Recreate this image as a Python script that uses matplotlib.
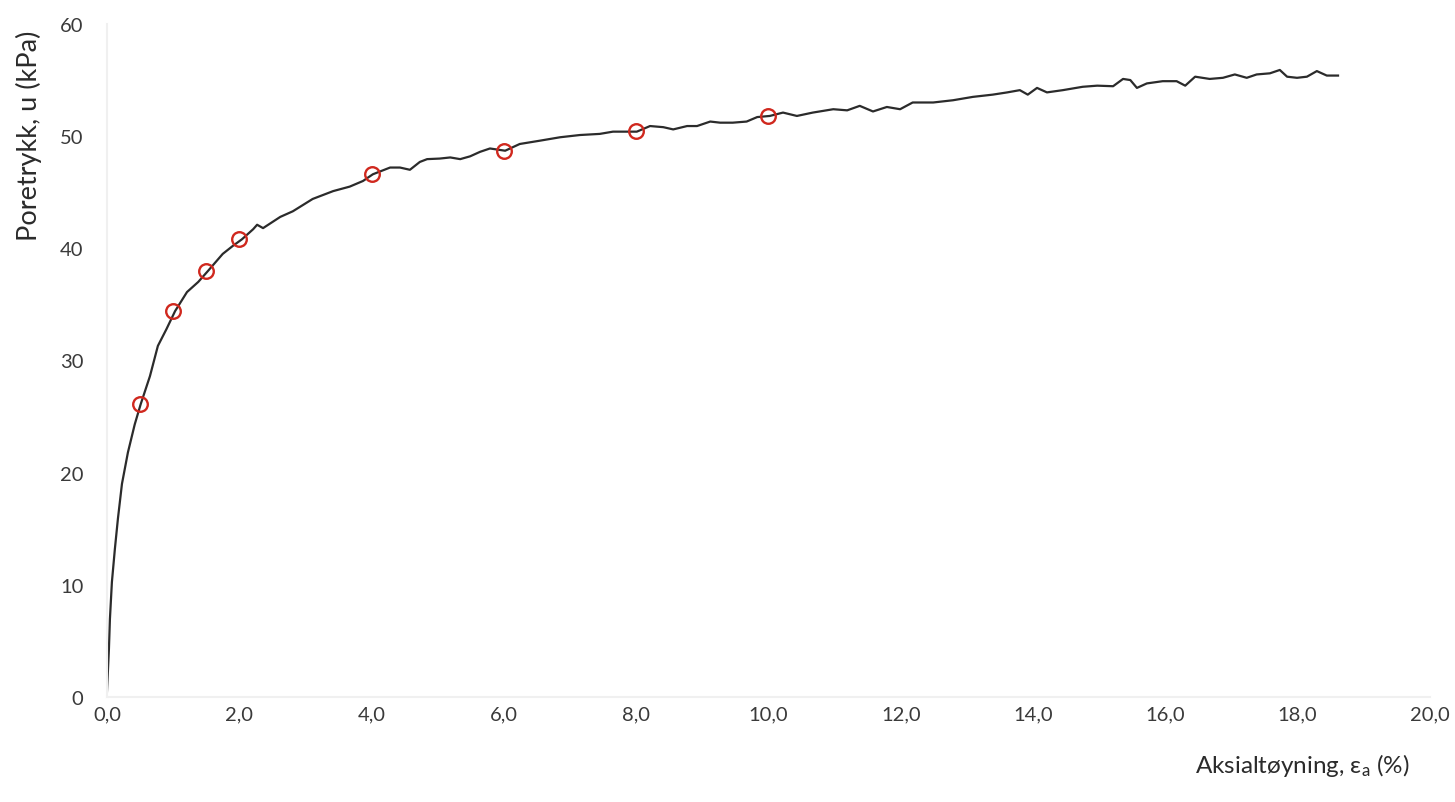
import matplotlib
matplotlib.use("Agg")
import matplotlib.pyplot as plt

plt.rcParams['font.family'] = ['Lato', 'DejaVu Sans']
plt.rcParams['mathtext.fontset'] = 'custom'
plt.rcParams['mathtext.rm'] = 'Lato'
plt.rcParams['mathtext.it'] = 'Lato'

# Curve (axial strain %, pore pressure kPa)
strain = [0.0, 0.03, 0.045, 0.075, 0.12, 0.166, 0.227, 0.317, 0.42, 0.51,
          0.65, 0.77, 0.90, 1.03, 1.21, 1.38, 1.53, 1.75, 1.90, 2.04,
          2.21, 2.27, 2.36, 2.62, 2.81, 3.11, 3.42, 3.67, 3.87, 4.02,
          4.15, 4.28, 4.43, 4.58, 4.73, 4.84, 5.03, 5.19, 5.34, 5.49,
          5.64, 5.79, 6.02, 6.24, 6.55, 6.85, 7.15, 7.45, 7.65, 7.86,
          8.01, 8.21, 8.41, 8.56, 8.77, 8.92, 9.12, 9.27, 9.46, 9.67,
          9.83, 10.02, 10.22, 10.43, 10.67, 10.98, 11.19, 11.38, 11.58, 11.79,
          11.99, 12.18, 12.49, 12.79, 13.09, 13.39, 13.61, 13.80, 13.92, 14.06,
          14.21, 14.45, 14.75, 14.97, 15.21, 15.36, 15.47, 15.57, 15.72, 15.96,
          16.17, 16.30, 16.45, 16.67, 16.87, 17.05, 17.23, 17.38, 17.58, 17.73,
          17.84, 17.99, 18.14, 18.29, 18.44, 18.61]
pressure = [0.45, 4.3, 6.95, 10.25, 13.2, 15.9, 19.0, 21.8, 24.3, 26.1,
            28.6, 31.3, 32.8, 34.4, 36.1, 37.0, 38.0, 39.5, 40.2, 40.8,
            41.7, 42.1, 41.8, 42.8, 43.3, 44.4, 45.1, 45.5, 46.0, 46.6,
            46.9, 47.2, 47.2, 47.0, 47.7, 47.95, 48.0, 48.1, 47.95, 48.2,
            48.6, 48.9, 48.7, 49.3, 49.6, 49.9, 50.1, 50.2, 50.4, 50.4,
            50.4, 50.9, 50.8, 50.6, 50.9, 50.9, 51.3, 51.2, 51.2, 51.3,
            51.7, 51.8, 52.1, 51.8, 52.1, 52.4, 52.3, 52.7, 52.2, 52.6,
            52.4, 53.0, 53.0, 53.2, 53.5, 53.7, 53.9, 54.1, 53.7, 54.3,
            53.9, 54.1, 54.4, 54.5, 54.45, 55.1, 55.0, 54.3, 54.7, 54.9,
            54.9, 54.5, 55.3, 55.1, 55.2, 55.5, 55.2, 55.5, 55.6, 55.9,
            55.3, 55.2, 55.3, 55.8, 55.4, 55.4]

# Marked points (red circles)
mark_strain = [0.5, 1.0, 1.5, 2.0, 4.0, 6.0, 8.0, 10.0]
mark_pressure = [26.1, 34.4, 38.0, 40.8, 46.6, 48.7, 50.5, 51.8]

x_ticks = [0, 2, 4, 6, 8, 10, 12, 14, 16, 18, 20]
x_tick_labels = ["0,0", "2,0", "4,0", "6,0", "8,0", "10,0", "12,0", "14,0", "16,0", "18,0", "20,0"]
y_ticks = [0, 10, 20, 30, 40, 50, 60]

fig = plt.figure(figsize=(14.55, 8.03), dpi=100)
ax = fig.add_axes([0.0735, 0.1308, 0.9093, 0.8381])

ax.plot(strain, pressure, color='#2b2b2b', linewidth=1.6, zorder=2)
ax.plot(mark_strain, mark_pressure, linestyle='none', marker='o', markersize=10.5,
        markerfacecolor='none', markeredgecolor='#d0281e', markeredgewidth=1.7, zorder=3)

ax.set_xlim(0, 20)
ax.set_ylim(0, 60)
ax.set_xticks(x_ticks)
ax.set_xticklabels(x_tick_labels)
ax.set_yticks(y_ticks)
ax.tick_params(axis='both', length=0, labelsize=14.5, colors='#3a3a3a')
ax.tick_params(axis='x', pad=6)
ax.tick_params(axis='y', pad=17)

for s in ['top', 'right']:
    ax.spines[s].set_visible(False)
ax.spines['left'].set_color('#f0f0f0')
ax.spines['bottom'].set_color('#f0f0f0')
ax.spines['left'].set_linewidth(1.5)
ax.spines['bottom'].set_linewidth(1.5)

fig.text(29 / 1455, 1 - 136 / 803, "Poretrykk, u (kPa)", rotation=90,
         ha='center', va='center', fontsize=19.5, color='#2b2b2b')
fig.text(1410 / 1455, 1 - 766 / 803, r"Aksialtøyning, $\mathregular{\epsilon_a}$ (%)",
         ha='right', va='center', fontsize=17.5, color='#2b2b2b')

fig.savefig("out.png", dpi=100, facecolor='white')
